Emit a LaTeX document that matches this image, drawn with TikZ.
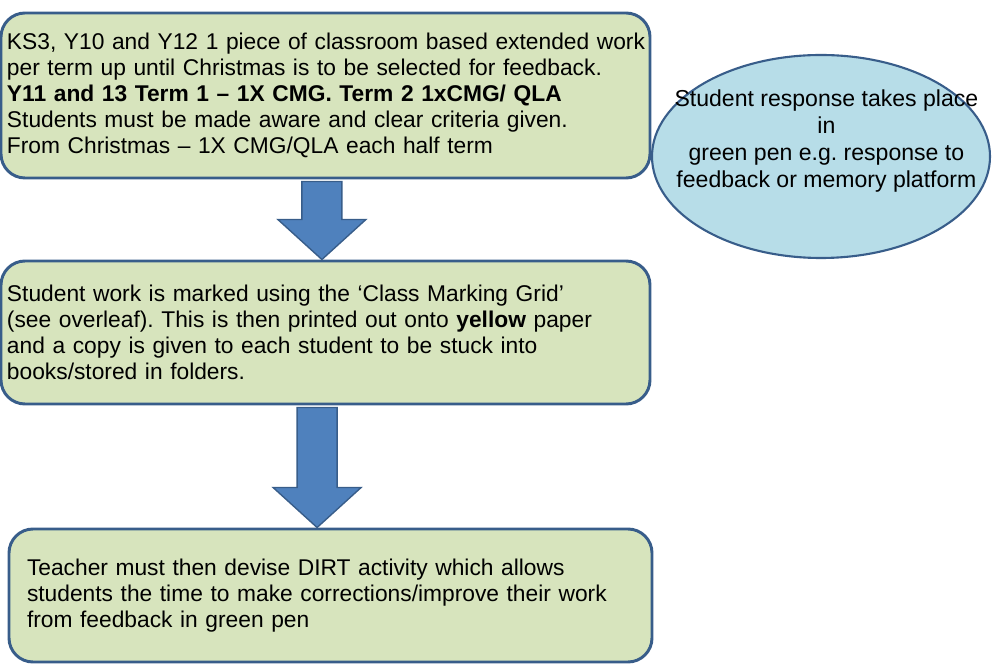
\documentclass[tikz,border=0pt]{standalone}
\usepackage{fontspec}
\setmainfont{Liberation Sans}
\usepackage{xcolor}
\definecolor{boxgreen}{RGB}{215, 228, 189}
\definecolor{edgeblue}{RGB}{56, 93, 138}
\definecolor{arrowblue}{RGB}{79, 129, 189}
\definecolor{bubbleblue}{RGB}{183, 221, 232}
\usepackage{tikz}
\usetikzlibrary{calc, positioning, shapes.geometric}
\frenchspacing

\begin{document}
\begin{tikzpicture}[
    stagebox/.style={draw=edgeblue, line width=2.1pt, fill=boxgreen, rounded corners=0.6cm,
        align=left, inner xsep=0.15cm, font=\fontsize{16.2}{18.5}\selectfont},
    bubble/.style={draw=edgeblue, line width=1.5pt, fill=bubbleblue, ellipse},
    blockarrow/.style={draw=edgeblue, line width=1pt, fill=arrowblue, line join=miter}]
    \useasboundingbox (0,0) rectangle (24.825,16.6);
    % the three stages
    \node[stagebox, minimum width=16.225cm, minimum height=4.125cm, text width=15.925cm] (brief) at (8.1375,14.2125)
        {\mbox{KS3, Y10 and Y12 1 piece of classroom based extended work}\\
         per term up until Christmas is to be selected for feedback.\\
         \textbf{Y11 and 13 Term 1 – 1X CMG. Term 2 1xCMG/ QLA}\\
         Students must be made aware and clear criteria given.\\
         From Christmas – 1X CMG/QLA each half term};
    \node[stagebox, minimum width=16.225cm, minimum height=3.575cm, text width=15.925cm] (marked) at (8.1375,8.2875)
        {Student work is marked using the ‘Class Marking Grid’\\
         (see overleaf). This is then printed out onto \textbf{yellow} paper\\
         and a copy is given to each student to be stuck into\\
         books/stored in folders.};
    \node[stagebox, inner xsep=0.45cm, minimum width=16.075cm, minimum height=3.325cm, text width=15.175cm] (dirt) at (8.2625,1.7125)
        {Teacher must then devise DIRT activity which allows\\
         students the time to make corrections/improve their work\\
         from feedback in green pen};
    % green pen bubble
    \node[bubble, minimum width=8.45cm, minimum height=5.075cm] (resp) at (20.525,12.6875) {};
    \node[align=center, font=\fontsize{16.4}{19.2}\selectfont] (resptext) at (20.66,13.075)
        {Student response takes place\\ in\\ green pen e.g. response to\\ feedback or memory platform};
    % block arrows between stages
    \foreach \a/\b/\dx in {brief/marked/-0.09, marked/dirt/-0.21}
        \draw[blockarrow] let \p1=($(\a.south)+(\dx,0)$), \p2=(\b.north) in
            (\x1-0.5cm,\y1-0.05cm) -- (\x1-0.5cm,\y2+1cm) -- (\x1-1.1cm,\y2+1cm) -- (\x1,\y2)
            -- (\x1+1.1cm,\y2+1cm) -- (\x1+0.5cm,\y2+1cm) -- (\x1+0.5cm,\y1-0.05cm) -- cycle;
\end{tikzpicture}
\end{document}
